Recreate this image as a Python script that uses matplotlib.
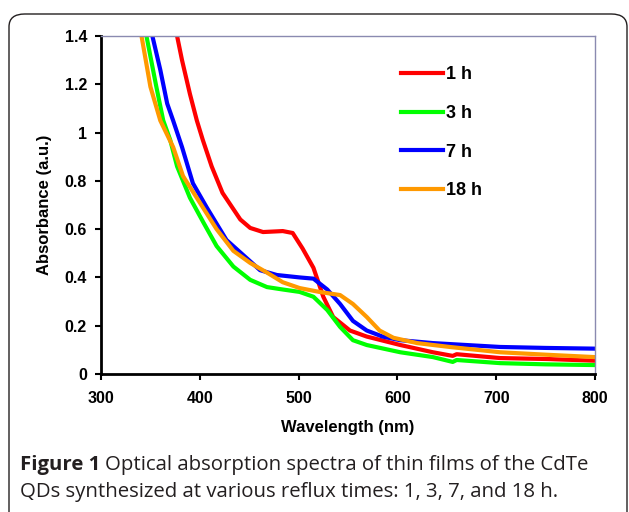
import matplotlib.pyplot as plt
from matplotlib.patches import FancyBboxPatch

# wavelength (nm) / absorbance (a.u.)
wl_1h = [377, 382, 390, 397, 403, 412, 423, 441, 451, 464, 484, 494, 504, 515, 525,
         535, 552, 569, 603, 636, 656, 660, 704, 752, 800]
ab_1h = [1.40, 1.30, 1.16, 1.05, 0.97, 0.86, 0.75, 0.64, 0.605, 0.588, 0.592, 0.584,
         0.52, 0.44, 0.32, 0.236, 0.18, 0.155, 0.12, 0.09, 0.075, 0.082, 0.066, 0.062, 0.055]

wl_3h = [346, 356, 363, 370, 377, 390, 404, 417, 434, 451, 468, 484, 501, 515, 529,
         542, 555, 569, 603, 636, 656, 660, 704, 750, 800]
ab_3h = [1.40, 1.19, 1.05, 0.97, 0.86, 0.73, 0.625, 0.53, 0.445, 0.39, 0.36, 0.35,
         0.34, 0.32, 0.265, 0.195, 0.14, 0.12, 0.09, 0.07, 0.05, 0.058, 0.045, 0.04, 0.037]

wl_7h = [352, 360, 367, 373, 382, 393, 407, 427, 461, 478, 501, 515, 529, 542, 555,
         569, 585, 603, 636, 670, 704, 750, 800]
ab_7h = [1.40, 1.26, 1.12, 1.05, 0.94, 0.79, 0.69, 0.555, 0.43, 0.41, 0.40, 0.395,
         0.35, 0.29, 0.22, 0.18, 0.155, 0.14, 0.128, 0.12, 0.112, 0.108, 0.105]

wl_18h = [341, 350, 360, 373, 383, 400, 417, 434, 451, 468, 484, 501, 521, 542, 555,
          569, 582, 596, 620, 653, 704, 750, 800]
ab_18h = [1.40, 1.19, 1.05, 0.94, 0.82, 0.71, 0.60, 0.51, 0.46, 0.42, 0.38, 0.356,
          0.34, 0.327, 0.29, 0.236, 0.18, 0.15, 0.128, 0.112, 0.09, 0.08, 0.07]

labels = ['1 h', '3 h', '7 h', '18 h']
colors = ['#ff0000', '#00ff00', '#0000ff', '#ff9900']
xticks = [300, 400, 500, 600, 700, 800]
yticks = [0, 0.2, 0.4, 0.6, 0.8, 1, 1.2, 1.4]
ytick_labels = ['0', '0.2', '0.4', '0.6', '0.8', '1', '1.2', '1.4']

arial = ['Liberation Sans', 'DejaVu Sans']
capfont = ['Open Sans', 'DejaVu Sans']

plt.rcParams['font.family'] = arial
plt.rcParams['font.weight'] = 'bold'

fig = plt.figure(figsize=(6.29, 5.12), dpi=100)

# rounded frame around the figure
frame = FancyBboxPatch((9 / 629, -0.1), 618 / 629, 1 - 14 / 512 + 0.1,
                       boxstyle='round,pad=0,rounding_size=0.025',
                       transform=fig.transFigure, fill=False,
                       edgecolor='#231f20', linewidth=1.0)
fig.patches.append(frame)

ax = fig.add_axes([101 / 629, 1 - 374 / 512, (595 - 101) / 629, (374 - 36) / 512])

series = [(wl_1h, ab_1h), (wl_3h, ab_3h), (wl_7h, ab_7h), (wl_18h, ab_18h)]
for (x, y), lab, col in zip(series, labels, colors):
    ax.plot(x, y, color=col, lw=3, label=lab)

ax.set_xlim(300, 800)
ax.set_ylim(0, 1.4)
ax.set_xticks(xticks)
ax.set_yticks(yticks)
ax.set_yticklabels(ytick_labels)

for s in ['left', 'bottom']:
    ax.spines[s].set_linewidth(2)
    ax.spines[s].set_color('black')
for s in ['top', 'right']:
    ax.spines[s].set_linewidth(1)
    ax.spines[s].set_color('#8a8ab0')

ax.tick_params(axis='x', direction='out', length=4, width=1.5, pad=8, labelsize=11.5)
ax.tick_params(axis='y', direction='out', length=4, width=1.5, pad=6, labelsize=11.5)

ax.set_xlabel('Wavelength (nm)', fontweight='bold', fontsize=12, labelpad=10)
ax.set_ylabel('Absorbance (a.u.)', fontweight='bold', fontsize=12, labelpad=9)

leg = ax.legend(loc='upper left', bbox_to_anchor=(385 / 629, 1 - 50 / 512),
                bbox_transform=fig.transFigure, frameon=False,
                handlelength=2.3, handletextpad=0.2, labelspacing=1.2,
                prop={'weight': 'bold', 'size': 13})

# caption
cap1 = fig.text(20 / 629, 1 - 465 / 512, 'Figure 1', family=capfont,
                fontweight='bold', fontsize=14.7, color='#231f20', va='center')
fig.canvas.draw()
bb = cap1.get_window_extent()
x_after = (bb.x1 + 5) / fig.bbox.width
fig.text(x_after, 1 - 465 / 512, 'Optical absorption spectra of thin films of the CdTe',
         family=capfont, fontweight='normal', fontsize=14.7, color='#231f20', va='center')
fig.text(20 / 629, 1 - 492 / 512, 'QDs synthesized at various reflux times: 1, 3, 7, and 18 h.',
         family=capfont, fontweight='normal', fontsize=14.7, color='#231f20', va='center')

fig.savefig('out.png', dpi=100)
